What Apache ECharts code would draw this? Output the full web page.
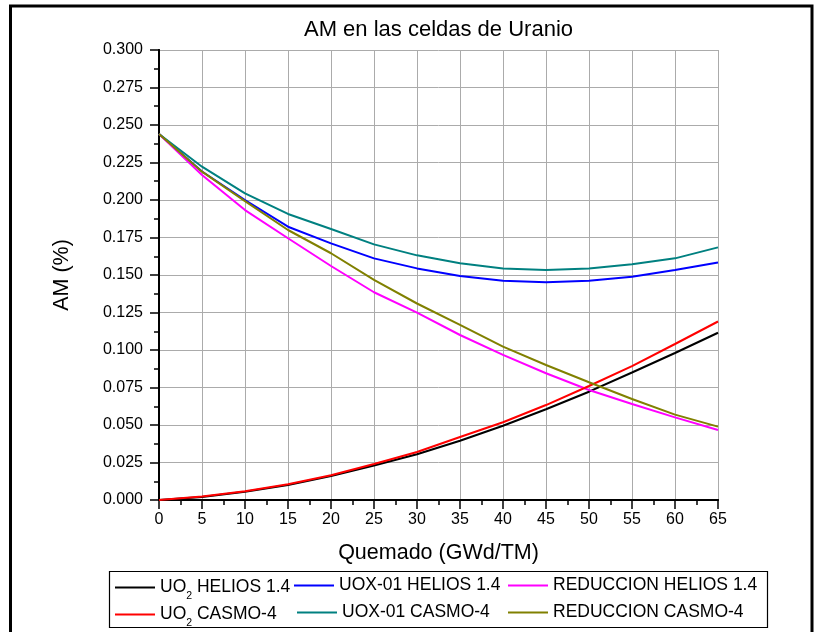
<!DOCTYPE html>
<html><head><meta charset="utf-8">
<script src="https://cdn.jsdelivr.net/npm/echarts@6/dist/echarts.min.js"></script>
<style>html,body{margin:0;padding:0;background:#fff}#c{width:820px;height:632px}</style>
</head><body><div id="c"></div>
<script>
// ---- data ----
const burnup = [0, 5, 10, 15, 20, 25, 30, 35, 40, 45, 50, 55, 60, 65];
const uo2Helios  = [0, 0.0020, 0.0055, 0.0100, 0.0160, 0.0230, 0.0305, 0.0395, 0.0495, 0.0605, 0.0722, 0.0850, 0.0980, 0.1115];
const uoxHelios  = [0.244, 0.2190, 0.2000, 0.1822, 0.1711, 0.1611, 0.1544, 0.1493, 0.1462, 0.1451, 0.1462, 0.1489, 0.1533, 0.1584];
const redHelios  = [0.244, 0.2167, 0.1933, 0.1745, 0.1560, 0.1385, 0.1249, 0.1100, 0.0967, 0.0845, 0.0733, 0.0640, 0.0551, 0.0467];
const uo2Casmo   = [0, 0.0023, 0.0058, 0.0105, 0.0165, 0.0240, 0.0320, 0.0420, 0.0518, 0.0633, 0.0760, 0.0893, 0.1040, 0.1190];
const uoxCasmo   = [0.244, 0.2222, 0.2044, 0.1907, 0.1807, 0.1704, 0.1631, 0.1578, 0.1544, 0.1533, 0.1544, 0.1571, 0.1611, 0.1684];
const redCasmo   = [0.244, 0.2189, 0.1993, 0.1800, 0.1645, 0.1467, 0.1310, 0.1167, 0.1022, 0.0900, 0.0785, 0.0673, 0.0569, 0.0489];
const seriesNames = ['UO2 HELIOS 1.4', 'UOX-01 HELIOS 1.4', 'REDUCCION HELIOS 1.4', 'UO2 CASMO-4', 'UOX-01 CASMO-4', 'REDUCCION CASMO-4'];
const seriesValues = [uo2Helios, uoxHelios, redHelios, uo2Casmo, uoxCasmo, redCasmo];
const seriesColors = ['#000000', '#0000ff', '#ff00ff', '#ff0000', '#008080', '#808000'];
const titleText = 'AM en las celdas de Uranio';
const xName = 'Quemado (GWd/TM)';
const yName = 'AM (%)';

const FONT = '"Liberation Sans", Arial, sans-serif';
const chart = echarts.init(document.getElementById('c'), null, {renderer: 'canvas'});

const legendPos = [
  {left: 115, top: 573.5},
  {left: 294, top: 573.5},
  {left: 508, top: 573.5},
  {left: 115, top: 600.5},
  {left: 297, top: 600.5},
  {left: 508, top: 600.5}
];

const legends = seriesNames.map((n, i) => ({
  data: [n],
  left: legendPos[i].left, top: legendPos[i].top,
  padding: 0, itemWidth: 40, itemHeight: 2, icon: 'rect',
  selectedMode: false,
  formatter: name => name.replace('UO2', 'UO{sub|2}'),
  textStyle: {fontFamily: FONT, fontSize: 17.5, color: '#000', lineHeight: 24,
    rich: {sub: {fontFamily: FONT, fontSize: 10.5, color: '#000', lineHeight: 24, padding: [17, 0, 0, 0]}}}
}));

const option = {
  backgroundColor: '#fff',
  animation: false,
  title: {text: titleText, left: 433.5, top: 14, textAlign: 'center',
    textStyle: {fontFamily: FONT, fontSize: 22, fontWeight: 'normal', color: '#000'}},
  legend: legends,
  grid: {left: 159, right: 102, top: 50, bottom: 132},
  xAxis: [{
    type: 'value', min: 0, max: 65, interval: 5, position: 'bottom',
    name: xName, nameLocation: 'middle', nameGap: 42,
    nameTextStyle: {fontFamily: FONT, fontSize: 21.5, color: '#000'},
    axisLine: {lineStyle: {color: '#000', width: 2}},
    axisTick: {inside: false, length: 9, lineStyle: {color: '#000', width: 1.5}},
    minorTick: {show: true, splitNumber: 2, length: 5, lineStyle: {color: '#000', width: 1.5}},
    axisLabel: {fontFamily: FONT, fontSize: 16, color: '#000', margin: 12},
    splitLine: {show: true, lineStyle: {color: '#ababab', width: 1}}
  }, {
    type: 'value', min: 0, max: 65, position: 'top',
    axisLine: {show: true, lineStyle: {color: '#000', width: 2}},
    axisTick: {show: false}, axisLabel: {show: false}, splitLine: {show: false}
  }],
  yAxis: [{
    type: 'value', min: 0, max: 0.3, interval: 0.025, position: 'left',
    name: yName, nameLocation: 'middle', nameGap: 86, nameRotate: 90,
    nameTextStyle: {fontFamily: FONT, fontSize: 21.5, color: '#000'},
    axisLine: {show: true, lineStyle: {color: '#000', width: 2}},
    axisTick: {inside: false, length: 9, lineStyle: {color: '#000', width: 1.5}},
    minorTick: {show: true, splitNumber: 2, length: 5, lineStyle: {color: '#000', width: 1.5}},
    axisLabel: {fontFamily: FONT, fontSize: 16, color: '#000', margin: 16, formatter: v => v.toFixed(3)},
    splitLine: {show: true, lineStyle: {color: '#ababab', width: 1}}
  }, {
    type: 'value', min: 0, max: 0.3, position: 'right',
    axisLine: {show: true, lineStyle: {color: '#000', width: 2}},
    axisTick: {show: false}, axisLabel: {show: false}, splitLine: {show: false}
  }],
  series: seriesNames.map((n, i) => ({
    name: n, type: 'line', xAxisIndex: 0, yAxisIndex: 0,
    data: burnup.map((x, j) => [x, seriesValues[i][j]]),
    symbol: 'none', color: seriesColors[i],
    lineStyle: {color: seriesColors[i], width: 2}
  })),
  graphic: [
    {type: 'rect', shape: {x: 10.5, y: 6, width: 801.5, height: 700}, style: {fill: 'none', stroke: '#000', lineWidth: 3}, silent: true},
    {type: 'rect', shape: {x: 109.5, y: 571.5, width: 658, height: 56}, style: {fill: 'none', stroke: '#000', lineWidth: 1.2}, silent: true}
  ]
};
chart.setOption(option);
</script></body></html>
